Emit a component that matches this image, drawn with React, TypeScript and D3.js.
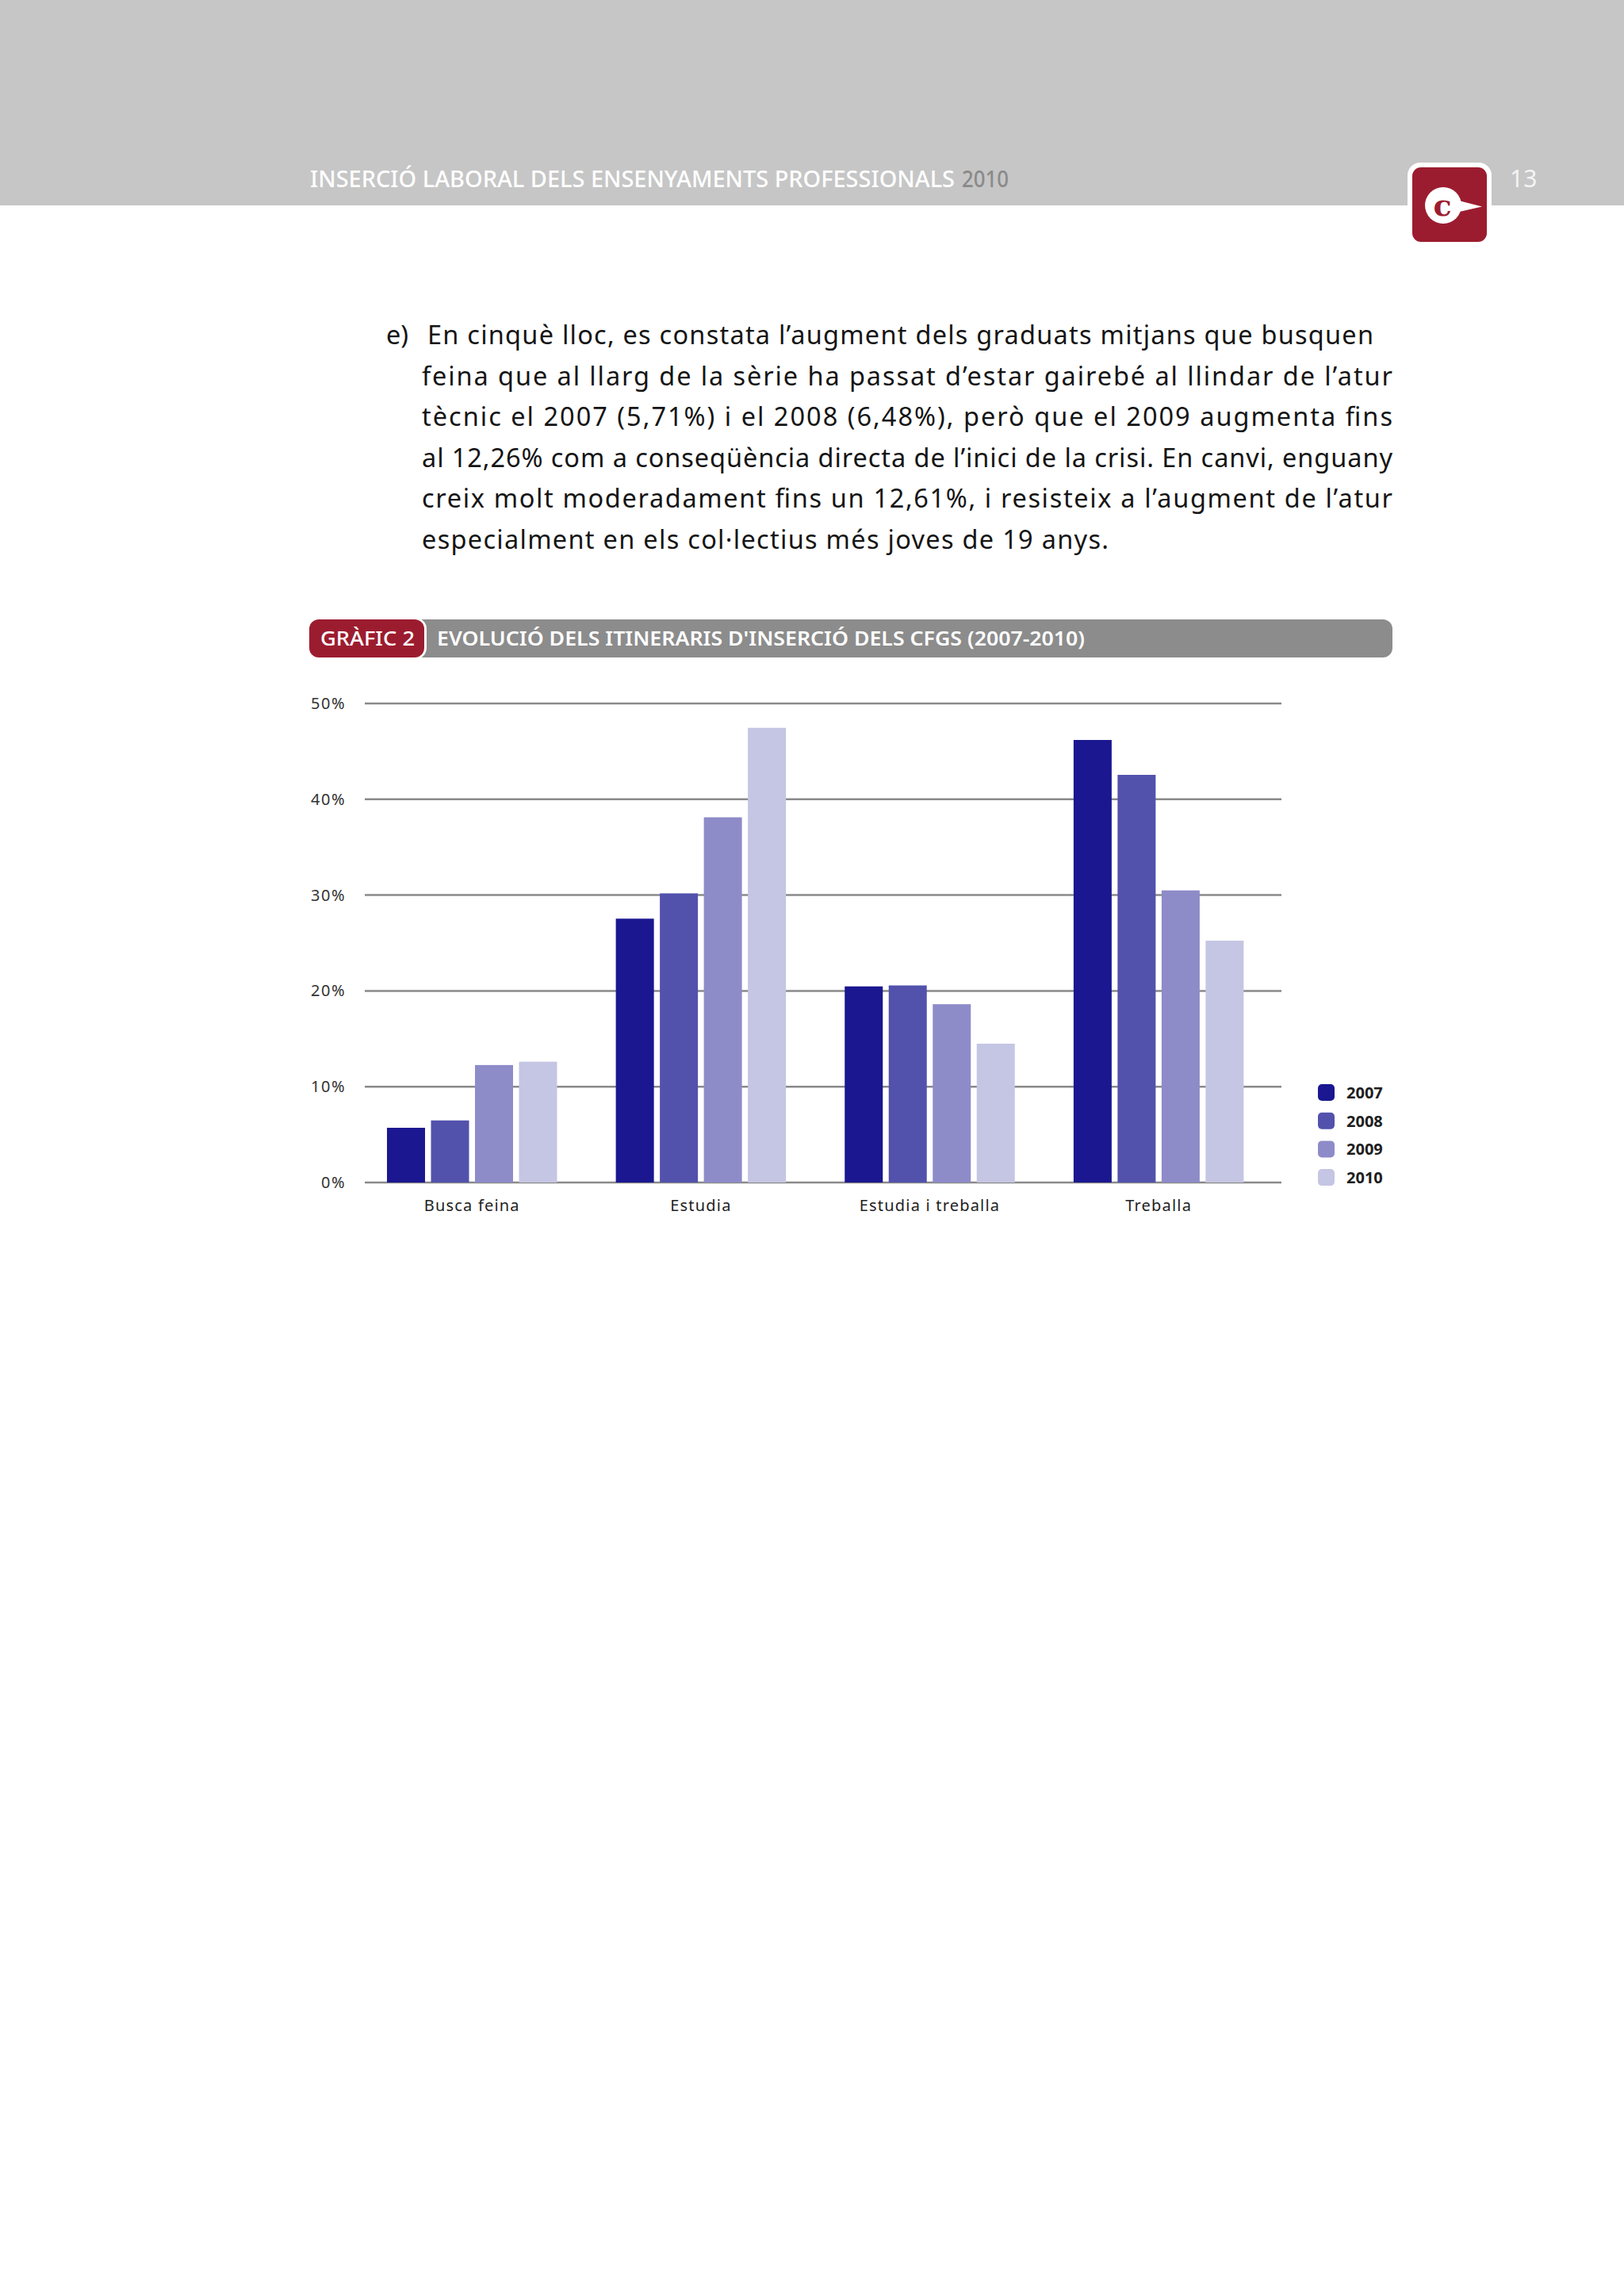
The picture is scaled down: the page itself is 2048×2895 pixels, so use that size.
import React from "react";
import * as d3 from "d3";

const categories = ["Busca feina", "Estudia", "Estudia i treballa", "Treballa"];
const years = ["2007", "2008", "2009", "2010"];
const values2007 = [5.71, 27.54, 20.47, 46.19];
const values2008 = [6.48, 30.18, 20.57, 42.55];
const values2009 = [12.26, 38.12, 18.61, 30.49];
const values2010 = [12.61, 47.46, 14.49, 25.24];
const seriesValues = [values2007, values2008, values2009, values2010];
const yTicks = [0, 10, 20, 30, 40, 50];
const colors = ["#1a1790", "#5252ad", "#8e8bc9", "#c5c5e4"];

const paragraphLines = [
  "En cinquè lloc, es constata l’augment dels graduats mitjans que busquen",
  "feina que al llarg de la sèrie ha passat d’estar gairebé al llindar de l’atur",
  "tècnic el 2007 (5,71%) i el 2008 (6,48%), però que el 2009 augmenta fins",
  "al 12,26% com a conseqüència directa de l’inici de la crisi. En canvi, enguany",
  "creix molt moderadament fins un 12,61%, i resisteix a l’augment de l’atur",
  "especialment en els col·lectius més joves de 19 anys.",
];

export default function App() {
  const font = "'Noto Sans', 'Open Sans', sans-serif";
  const x0 = d3.scaleBand<string>().domain(categories).range([451, 1605.5]).padding(0);
  const x1 = d3.scaleBand<string>().domain(years).range([37, 251.5]).paddingInner(0.135).paddingOuter(0);
  const y = d3.scaleLinear().domain([0, 50]).range([1491, 887]);

  const lineStarts = [539, 532, 532, 532, 532, 532];
  const lineEnds = [1732, 1756, 1756, 1756, 1756, 1398];
  const baseline0 = 434;
  const lineGap = 51.6;

  return (
    <svg
      width={2048}
      height={2895}
      style={{ position: "absolute", left: 0, top: 0, background: "#ffffff" }}
    >
      <rect x={0} y={0} width={2048} height={2895} fill="#ffffff" />
      {/* header band */}
      <rect x={0} y={0} width={2048} height={259} fill="#c6c6c6" />
      <text
        x={391}
        y={236}
        fontFamily={font}
        fontSize={28}
        fontWeight={500}
        fill="#ffffff"
        textLength={813}
        lengthAdjust="spacingAndGlyphs"
      >
        INSERCIÓ LABORAL DELS ENSENYAMENTS PROFESSIONALS
      </text>
      <text
        x={1213}
        y={236}
        fontFamily={font}
        fontSize={28}
        fontWeight={500}
        fill="#8a8a8a"
        textLength={59}
        lengthAdjust="spacingAndGlyphs"
      >
        2010
      </text>
      <text x={1904} y={236} fontFamily={font} fontSize={30} fill="#f4f4f4">
        13
      </text>

      {/* logo */}
      <rect x={1775} y={205} width={106} height={106} rx={16} fill="#ffffff" />
      <rect x={1781} y={211} width={94} height={94} rx={11} fill="#9c1c2f" />
      <circle cx={1820} cy={259} r={23} fill="#ffffff" />
      <path d="M1836,252 L1869,260.5 L1836,268 Z" fill="#ffffff" />
      <text
        x={1819}
        y={272}
        textAnchor="middle"
        fontFamily="'DejaVu Serif', serif"
        fontWeight="bold"
        fontSize={38}
        fill="#9c1c2f"
      >
        c
      </text>

      {/* paragraph */}
      <text x={487} y={baseline0} fontFamily={font} fontSize={32.5} fill="#151515">
        e)
      </text>
      {paragraphLines.map((line, i) => (
        <text
          key={i}
          x={lineStarts[i]}
          y={baseline0 + i * lineGap}
          fontFamily={font}
          fontSize={32.5}
          fill="#151515"
          textLength={lineEnds[i] - lineStarts[i]}
          lengthAdjust="spacing"
        >
          {line}
        </text>
      ))}

      {/* chart title bar */}
      <rect x={390} y={781} width={1366} height={48} rx={12} fill="#8c8c8c" />
      <rect x={388} y={779} width={150} height={52} rx={14} fill="#ffffff" />
      <rect x={390} y={781} width={145} height={48} rx={12} fill="#9c1c2f" />
      <text
        x={404}
        y={814}
        fontFamily={font}
        fontSize={25}
        fontWeight={500}
        fill="#ffffff"
        textLength={119}
        lengthAdjust="spacingAndGlyphs"
      >
        GRÀFIC 2
      </text>
      <text
        x={551}
        y={814}
        fontFamily={font}
        fontSize={25}
        fontWeight={600}
        fill="#ffffff"
        textLength={817}
        lengthAdjust="spacingAndGlyphs"
      >
        EVOLUCIÓ DELS ITINERARIS D'INSERCIÓ DELS CFGS (2007-2010)
      </text>

      {/* gridlines */}
      {yTicks.map((t) => (
        <g key={t}>
          <line x1={460} x2={1616} y1={y(t)} y2={y(t)} stroke="#8a8a8a" strokeWidth={2.5} />
          <text
            x={436}
            y={y(t)}
            dy="0.35em"
            textAnchor="end"
            fontFamily={font}
            fontSize={20}
            letterSpacing={1.5}
            fill="#333333"
          >
            {t}%
          </text>
        </g>
      ))}

      {/* bars */}
      {categories.map((c, ci) => (
        <g key={c} transform={`translate(${x0(c)},0)`}>
          {years.map((yr, si) => (
            <rect
              key={yr}
              x={x1(yr)}
              y={y(seriesValues[si][ci])}
              width={x1.bandwidth()}
              height={y(0) - y(seriesValues[si][ci])}
              fill={colors[si]}
            />
          ))}
          <text
            x={(x1.range()[0] + x1.range()[1]) / 2}
            y={1527}
            textAnchor="middle"
            fontFamily={font}
            fontSize={20}
            letterSpacing={1.2}
            fill="#222222"
          >
            {c}
          </text>
        </g>
      ))}

      {/* legend */}
      {years.map((yr, i) => (
        <g key={yr} transform={`translate(1662,${1367 + i * 35.7})`}>
          <rect x={0} y={0} width={21} height={21} rx={5} fill={colors[i]} />
          <text
            x={36}
            y={18}
            fontFamily={font}
            fontSize={20}
            fontWeight="bold"
            fill="#1e1e1e"
          >
            {yr}
          </text>
        </g>
      ))}
    </svg>
  );
}
